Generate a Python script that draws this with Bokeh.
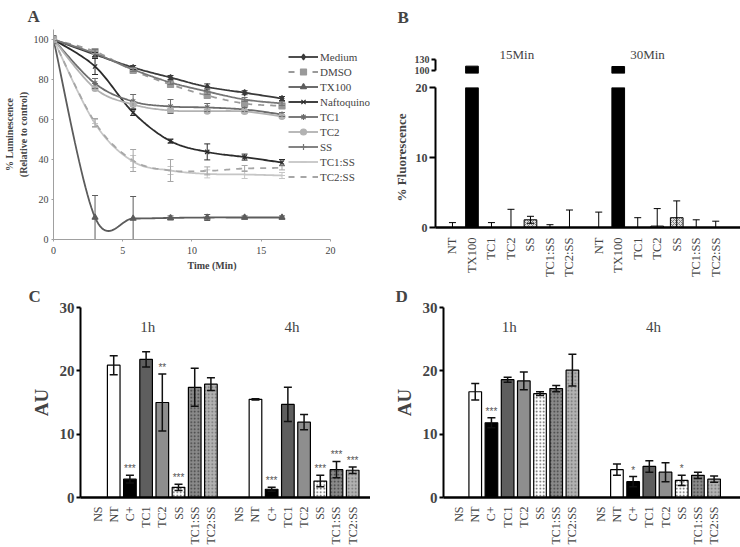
import numpy as np
from bokeh.plotting import figure
from bokeh.models import (ColumnDataSource, Whisker, TeeHead, Label, Legend,
                          LegendItem, FixedTicker, Title)
from bokeh.layouts import row, column
from bokeh.embed import file_html
from bokeh.resources import INLINE
from bokeh.core.properties import value

SERIF = "Liberation Serif"

# ---------------- Panel A data ----------------
time_min = [0, 3.0, 5.75, 8.45, 11.1, 13.8, 16.5]
a_names = ["Medium", "DMSO", "TX100", "Naftoquinone", "TC1", "TC2", "SS", "TC1:SS", "TC2:SS"]
medium = [100, 92.5, 86, 81, 76.3, 73.4, 70.5]
dmso = [100, 94, 84.5, 77.5, 72, 68, 66.8]
tx100 = [100, 11, 10.5, 10.8, 11, 11, 11]
nafto = [100, 86.5, 63.5, 49.2, 43.8, 41.2, 38.5]
tc1 = [100, 78, 69, 66.5, 66, 65, 62.5]
tc2 = [100, 75.5, 67.5, 64.5, 64.2, 64, 61.5]
ss = [100, 93, 85, 78.5, 74, 70, 68]
tc1ss = [100, 58, 39, 34.5, 32.8, 32.5, 32]
tc2ss = [100, 58.5, 39.5, 34.5, 34.3, 35.5, 35.8]

medium_err = [1, 1, 1, 1, 1.5, 1, 1]
dmso_err = [1, 1, 1, 1, 1, 1, 1]
tx100_err = [1, 11, 11, 1, 1.5, 0.8, 0.8]
nafto_err = [1, 4, 1.5, 1, 4, 1.5, 1.5]
tc1_err = [1, 2.5, 3.5, 3.5, 2, 1, 1]
tc2_err = [1, 1, 1, 1, 1, 1, 1]
ss_err = [2, 2, 1, 1, 1.5, 1, 1]
tc1ss_err = [1, 2, 3, 2, 2, 2, 1.5]
tc2ss_err = [1, 2, 5.5, 5.5, 2, 1.5, 1]

a_values = [medium, dmso, tx100, nafto, tc1, tc2, ss, tc1ss, tc2ss]
a_errors = [medium_err, dmso_err, tx100_err, nafto_err, tc1_err, tc2_err, ss_err, tc1ss_err, tc2ss_err]
a_colors = ["#3a3a3a", "#9a9a9a", "#5c5c5c", "#2c2c2c", "#6c6c6c", "#b2b2b2", "#767676", "#c6c6c6", "#a6a6a6"]
a_dash = ["solid", "dashed", "solid", "solid", "solid", "solid", "solid", "solid", "dashed"]
a_marker = ["diamond", "square", "triangle", "x", "asterisk", "circle", "cross", "dash", None]

# ---------------- Panel B data ----------------
b_cats = ["NT", "TX100", "TC1", "TC2", "SS", "TC1:SS", "TC2:SS"]
b_15min = [0, 111, 0, 0, 1.1, 0, 0]
b_15min_err = [0.7, 0, 0.7, 2.6, 0.5, 0.4, 2.5]
b_30min = [0, 110, 0, 0.2, 1.4, 0, 0]
b_30min_err = [2.2, 0, 1.4, 2.5, 2.4, 1.1, 0.9]
b_groups = ["15Min", "30Min"]

# ---------------- Panels C / D data ----------------
cd_cats = ["NS", "NT", "C+", "TC1", "TC2", "SS", "TC1:SS", "TC2:SS"]
cd_groups = ["1h", "4h"]
c_1h = [0, 20.9, 2.9, 21.8, 15.0, 1.6, 17.4, 17.9]
c_1h_err = [0, 1.5, 0.6, 1.2, 4.5, 0.5, 3.0, 1.0]
c_1h_sig = ["", "", "***", "", "**", "***", "", ""]
c_4h = [0, 15.5, 1.3, 14.7, 11.9, 2.6, 4.4, 4.3]
c_4h_err = [0, 0.1, 0.3, 2.7, 1.2, 0.9, 1.3, 0.5]
c_4h_sig = ["", "", "***", "", "", "***", "***", "***"]
d_1h = [0, 16.7, 11.8, 18.6, 18.4, 16.4, 17.2, 20.1]
d_1h_err = [0, 1.3, 0.8, 0.4, 1.4, 0.3, 0.5, 2.5]
d_1h_sig = ["", "", "***", "", "", "", "", ""]
d_4h = [0, 4.4, 2.5, 4.9, 4.0, 2.7, 3.5, 2.9]
d_4h_err = [0, 0.9, 0.8, 0.9, 1.5, 0.8, 0.5, 0.5]
d_4h_sig = ["", "", "*", "", "", "*", "", ""]


def smooth(xs, ys, n=24):
    P = np.column_stack([xs, ys]).astype(float)
    P = np.vstack([P[0], P, P[-1]])
    out = []
    for i in range(1, len(P) - 2):
        p0, p1, p2, p3 = P[i - 1], P[i], P[i + 1], P[i + 2]
        c1 = p1 + (p2 - p0) / 6.0
        c2 = p2 - (p3 - p1) / 6.0
        t = np.linspace(0, 1, n)[:, None]
        seg = (1 - t) ** 3 * p1 + 3 * (1 - t) ** 2 * t * c1 + 3 * (1 - t) * t ** 2 * c2 + t ** 3 * p2
        out.append(seg)
    Q = np.vstack(out)
    return Q[:, 0], Q[:, 1]


def base_fig(**kw):
    p = figure(output_backend="svg", toolbar_location=None, **kw)
    p.outline_line_color = None
    p.xgrid.visible = False
    p.ygrid.visible = False
    p.background_fill_color = "white"
    p.border_fill_color = "white"
    return p


def letter_title(p, text, offset, standoff):
    p.add_layout(Title(text=text, align="left", offset=offset, standoff=standoff,
                       text_font=SERIF, text_font_size="17px", text_font_style="bold"), "above")


# ================= Panel A =================
pA = base_fig(width=370, height=280, x_range=(0, 22.89), y_range=(0, 105),
              min_border_left=53, min_border_right=0, min_border_top=29, min_border_bottom=41)
items = []
for name, vals, errs, col, dash, mk in zip(a_names, a_values, a_errors, a_colors, a_dash, a_marker):
    sx, sy = smooth(time_min, vals)
    lr = pA.line(sx, sy, line_color=col, line_width=1.8, line_dash=dash)
    rs = [lr]
    src = ColumnDataSource(dict(x=time_min, lo=np.array(vals) - np.array(errs), hi=np.array(vals) + np.array(errs)))
    w = Whisker(source=src, base="x", lower="lo", upper="hi", line_color=col, line_width=1,
                upper_head=TeeHead(size=6, line_color=col, line_width=1),
                lower_head=TeeHead(size=6, line_color=col, line_width=1), level="glyph")
    pA.add_layout(w)
    if mk is not None:
        mr = pA.scatter(time_min, vals, marker=mk, size=6, line_color=col, fill_color=col, line_width=1.2)
        rs.append(mr)
    items.append(LegendItem(label=name, renderers=rs))

leg = Legend(items=items, location=(235, 55), glyph_width=30, glyph_height=15, label_height=15,
             spacing=0, padding=0, margin=0, label_standoff=2, border_line_color=None,
             background_fill_alpha=0, label_text_font=SERIF, label_text_font_size="11px")
pA.add_layout(leg)
pA.xaxis.ticker = FixedTicker(ticks=[0, 5, 10, 15, 20])
pA.xaxis.bounds = (0, 20)
pA.yaxis.ticker = FixedTicker(ticks=[0, 20, 40, 60, 80, 100])
for ax in (pA.xaxis[0], pA.yaxis[0]):
    ax.axis_line_color = "#a0a0a0"
    ax.major_tick_line_color = "#a0a0a0"
    ax.minor_tick_line_color = None
    ax.major_tick_out = 2
    ax.major_tick_in = 0
    ax.major_label_text_font = SERIF
    ax.major_label_text_font_size = "10px"
    ax.axis_label_text_font = SERIF
    ax.axis_label_text_font_size = "10px"
    ax.axis_label_text_font_style = "bold"
pA.xaxis.axis_label = "Time (Min)"
pA.xaxis.axis_label_standoff = 3
pA.xaxis.major_label_standoff = 5
pA.yaxis.axis_label = "% Luminescence\n(Relative to control)"
pA.yaxis.axis_label_standoff = 2
pA.yaxis.major_label_standoff = 3
letter_title(pA, "A", -26, 8)

# ================= Panel B =================
x15 = [float(i) for i in range(len(b_cats))]
x30 = [7.5 + i for i in range(len(b_cats))]
b_fill = ["white", "black", "white", "white", "#dedede", "white", "white"]
b_hatch = [" ", " ", " ", " ", "diagonal_cross", " ", " "]
bsrc = ColumnDataSource(dict(
    x=x15 + x30, top=b_15min + b_30min, fill=b_fill + b_fill, hatch=b_hatch + b_hatch))
bx_start, bx_end = -0.87, 14.77
b_top_y0 = 90
# bars that reach the upper (broken) segment of the axis
big = [i for i, t in enumerate(b_15min + b_30min) if t > b_top_y0]
bsrc_top = ColumnDataSource(dict(x=[(x15 + x30)[i] for i in big],
                                 top=[(b_15min + b_30min)[i] for i in big]))

pBt = base_fig(width=370, height=79, x_range=(bx_start, bx_end), y_range=(b_top_y0, 218.6),
               x_axis_location=None,
               min_border_left=65, min_border_right=0, min_border_top=28, min_border_bottom=6)
pBb = base_fig(width=370, height=201, x_range=pBt.x_range, y_range=(0, 20),
               min_border_left=65, min_border_right=0, min_border_top=8, min_border_bottom=45)
pBt.vbar(x="x", top="top", bottom=b_top_y0, width=0.65, source=bsrc_top, fill_color="black",
         line_color="black", line_width=1)
pBb.vbar(x="x", top="top", bottom=0, width=0.65, source=bsrc, fill_color="fill",
         line_color="black", line_width=1, hatch_pattern="hatch", hatch_color="#808080",
         hatch_scale=4, hatch_weight=1)
for p in (pBt, pBb):
    ax = p.yaxis[0]
    ax.axis_line_width = 2
    ax.major_tick_line_width = 2
    ax.major_tick_out = 6
    ax.major_tick_in = 0
    ax.minor_tick_line_color = None
    ax.major_label_text_font = SERIF
    ax.major_label_text_font_style = "bold"
    ax.major_label_standoff = 2

bt = np.array(b_15min + b_30min)
be = np.array(b_15min_err + b_30min_err)
mask = be > 0
wsrc = ColumnDataSource(dict(x=np.array(x15 + x30)[mask], lo=np.maximum(bt - be, 0)[mask],
                             hi=(bt + be)[mask]))
pBb.add_layout(Whisker(source=wsrc, base="x", lower="lo", upper="hi", line_color="black",
                       line_width=1, upper_head=TeeHead(size=7, line_color="black", line_width=1),
                       lower_head=TeeHead(size=7, line_color="black", line_width=1),
                       level="annotation"))

pBt.yaxis.ticker = FixedTicker(ticks=[100, 130])
pBt.yaxis.bounds = (100, 130)
pBt.yaxis.major_label_text_font_size = "10px"
pBt.yaxis.major_tick_out = 4
pBb.yaxis.ticker = FixedTicker(ticks=[0, 10, 20])
pBb.yaxis.major_label_text_font_size = "12px"
pBb.yaxis.axis_label = "% Fluorescence"
pBb.yaxis.axis_label_text_font = SERIF
pBb.yaxis.axis_label_text_font_size = "13px"
pBb.yaxis.axis_label_text_font_style = "bold"
pBb.yaxis.axis_label_standoff = 4
xa = pBb.xaxis[0]
xa.ticker = FixedTicker(ticks=x15 + x30)
xa.major_label_overrides = {x: c for x, c in zip(x15 + x30, b_cats + b_cats)}
xa.major_label_orientation = np.pi / 2
xa.major_label_text_font = SERIF
xa.major_label_text_font_size = "12.5px"
xa.axis_line_width = 2.5
xa.major_tick_line_color = None
xa.minor_tick_line_color = None
xa.major_label_standoff = 4
for gx, g in zip([3.3, 10.0], b_groups):
    pBt.add_layout(Label(x=gx, y=145.7, text=g, text_font=SERIF, text_font_size="13px",
                         text_align="center", text_baseline="middle"))
letter_title(pBt, "B", -38, 4)

# ================= Panels C / D =================
cd_fill = ["white", "white", "black", "#5e5e5e", "#8e8e8e", "white", "#8a8a8a", "#b2b2b2"]
cd_hatch = [" ", " ", " ", " ", " ", "dot", "dot", "dot"]
cd_hcol = ["black", "black", "black", "black", "black", "#555555", "#3c3c3c", "#6e6e6e"]


def bar_panel(v1, e1, s1, v4, e4, s4, mb_left, x_start, x_end, letter, loff):
    p = base_fig(width=370, height=267, x_range=(x_start, x_end), y_range=(0, 30),
                 min_border_left=mb_left, min_border_right=0, min_border_top=27, min_border_bottom=50)
    xa1 = [float(i) for i in range(len(cd_cats))]
    xa4 = [8.75 + i for i in range(len(cd_cats))]
    xs = xa1 + xa4
    vals = v1 + v4
    errs = e1 + e4
    sigs = s1 + s4
    src = ColumnDataSource(dict(x=xs, top=vals, fill=cd_fill * 2, hatch=cd_hatch * 2, hcol=cd_hcol * 2))
    p.vbar(x="x", top="top", bottom=0, width=0.78, source=src, fill_color="fill", line_color="black",
           line_width=1.2, hatch_pattern="hatch", hatch_color="hcol", hatch_scale=3.5, hatch_weight=1.2)
    va, ea = np.array(vals), np.array(errs)
    m = ea > 0
    ws = ColumnDataSource(dict(x=np.array(xs)[m], lo=(va - ea)[m], hi=(va + ea)[m]))
    p.add_layout(Whisker(source=ws, base="x", lower="lo", upper="hi", line_color="#111111",
                         line_width=1.5, upper_head=TeeHead(size=8, line_color="#111111", line_width=1.5),
                         lower_head=TeeHead(size=8, line_color="#111111", line_width=1.5),
                         level="annotation"))
    sm = np.array([s != "" for s in sigs])
    ss_src = ColumnDataSource(dict(x=np.array(xs)[sm], y=(va + ea)[sm], t=np.array(sigs)[sm]))
    p.text(x="x", y="y", text="t", source=ss_src, text_align="center", text_baseline="bottom",
           y_offset=-1, text_font=value("Liberation Sans"), text_font_size="10px", text_color="#555555")
    for gx, g in zip([3.1, 12.0], cd_groups):
        p.add_layout(Label(x=gx, y=27, text=g, text_font=SERIF, text_font_size="15px",
                           text_align="center", text_baseline="middle"))
    letter_title(p, letter, loff, 4)
    ya = p.yaxis[0]
    ya.ticker = FixedTicker(ticks=[0, 10, 20, 30])
    ya.axis_line_width = 2
    ya.major_tick_line_width = 2
    ya.major_tick_out = 4
    ya.major_tick_in = 0
    ya.minor_tick_line_color = None
    ya.major_label_text_font = SERIF
    ya.major_label_text_font_style = "bold"
    ya.major_label_text_font_size = "15px"
    ya.major_label_standoff = 2
    ya.axis_label = "AU"
    ya.axis_label_text_font = SERIF
    ya.axis_label_text_font_style = "bold"
    ya.axis_label_text_font_size = "19px"
    ya.axis_label_standoff = 5
    xa = p.xaxis[0]
    xa.ticker = FixedTicker(ticks=xs)
    xa.major_label_overrides = {x: c for x, c in zip(xs, cd_cats + cd_cats)}
    xa.major_label_orientation = np.pi / 2
    xa.major_label_text_font = SERIF
    xa.major_label_text_font_size = "12px"
    xa.axis_line_width = 2.5
    xa.major_tick_line_color = None
    xa.minor_tick_line_color = None
    xa.major_label_standoff = 3
    return p


pC = bar_panel(c_1h, c_1h_err, c_1h_sig, c_4h, c_4h_err, c_4h_sig, 80, -1.05, 16.85, "C", -52)
pD = bar_panel(d_1h, d_1h_err, d_1h_sig, d_4h, d_4h_err, d_4h_sig, 73, -0.96, 17.38, "D", -48)

layout = column(row(pA, column(pBt, pBb, spacing=0), spacing=0), row(pC, pD, spacing=0), spacing=0)
open("out.html", "w").write(file_html(layout, INLINE))
